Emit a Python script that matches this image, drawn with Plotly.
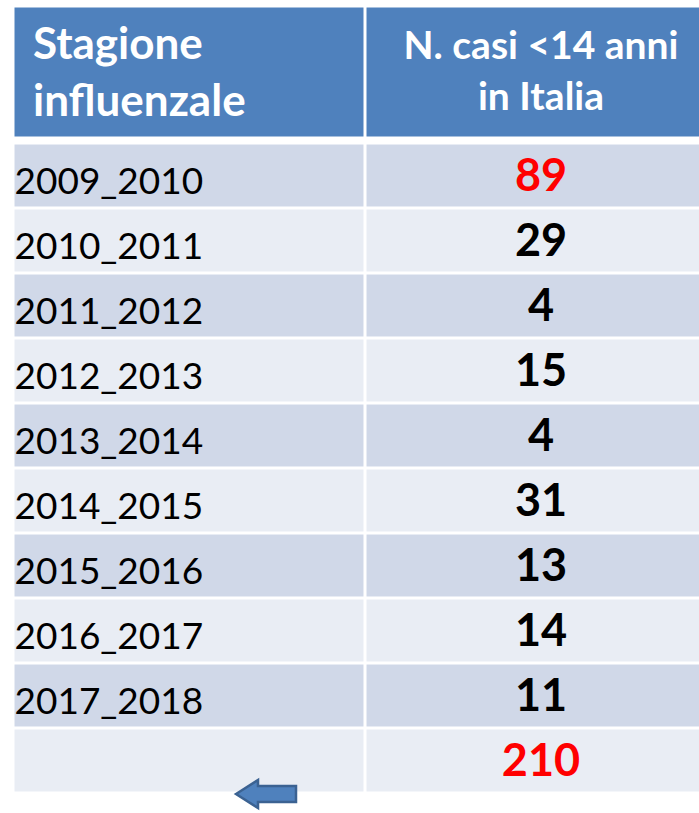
import plotly.graph_objects as go

# ---- data ----
header_labels = ["Stagione<br>influenzale", "N. casi <14 anni<br>in Italia"]
seasons = ["2009_2010", "2010_2011", "2011_2012", "2012_2013", "2013_2014",
           "2014_2015", "2015_2016", "2016_2017", "2017_2018"]
cases = [89, 29, 4, 15, 4, 31, 13, 14, 11]
total_cases = 210

# ---- styling / geometry ----
W, H = 699, 813
FONT = "Lato"
HEADER_BLUE = "#4F81BD"
ROW_DARK = "#D0D8E8"
ROW_LIGHT = "#E9EDF4"
RED = "#FF0000"

col_edges = [13.5, 365.5, 720]
header_top, header_bottom = 6.5, 138.5
rows_top = 143.5
row_h = 65

n_rows = len(seasons) + 1  # + total row
y_edges = [header_top, header_bottom, rows_top] + [rows_top + row_h * (i + 1) for i in range(n_rows)]
z = [[0, 0], [None, None]] + [[1 + (i % 2), 1 + (i % 2)] for i in range(n_rows)]

fig = go.Figure()
fig.add_trace(go.Heatmap(
    x=col_edges, y=y_edges, z=z,
    colorscale=[[0, HEADER_BLUE], [0.5, ROW_DARK], [1, ROW_LIGHT]],
    zmin=0, zmax=2, showscale=False, xgap=3, ygap=3, hoverinfo="skip"))

row_centers = [rows_top + row_h * i + row_h / 2 for i in range(n_rows)]
col1_x = col_edges[0] + 1
col2_x = 541
header_mid = (header_top + header_bottom) / 2

# header text
fig.add_trace(go.Scatter(
    x=[33], y=[header_mid + 4], mode="text",
    text=[header_labels[0]], textposition="middle right",
    textfont=dict(family=FONT, size=44, color="white", weight="bold"),
    hoverinfo="skip", showlegend=False))
fig.add_trace(go.Scatter(
    x=[col2_x], y=[header_mid + 2], mode="text",
    text=[header_labels[1]], textposition="middle center",
    textfont=dict(family=FONT, size=39, color="white", weight="bold"),
    hoverinfo="skip", showlegend=False))

# season labels
fig.add_trace(go.Scatter(
    x=[col1_x] * len(seasons), y=[c + 9 for c in row_centers[:len(seasons)]], mode="text",
    text=seasons, textposition="middle right",
    textfont=dict(family=FONT, size=37, color="black"),
    hoverinfo="skip", showlegend=False))

# case numbers
values = cases + [total_cases]
max_val = max(cases)
colors = [RED if (v == max_val or i == len(values) - 1) else "black" for i, v in enumerate(values)]
fig.add_trace(go.Scatter(
    x=[col2_x] * len(values), y=[c + 4 for c in row_centers], mode="text",
    text=[str(v) for v in values], textposition="middle center",
    textfont=dict(family=FONT, size=45, color=colors, weight="bold"),
    hoverinfo="skip", showlegend=False))

# decorative arrow
arrow = "M 236 794 L 258 780 L 258 786 L 296 786 L 296 802 L 258 802 L 258 808 Z"
fig.add_shape(type="path", path=arrow, xref="x", yref="y",
              fillcolor=HEADER_BLUE, line=dict(color="#3B6292", width=2.5), layer="above")

fig.update_xaxes(range=[0, W], visible=False, fixedrange=True)
fig.update_yaxes(range=[H, 0], visible=False, fixedrange=True)
fig.update_layout(width=W, height=H, margin=dict(l=0, r=0, t=0, b=0),
                  plot_bgcolor="white", paper_bgcolor="white", showlegend=False)

fig.write_html("out.html", config={"displayModeBar": False},
               post_script="document.body.style.margin='0';document.body.style.overflow='hidden';")
